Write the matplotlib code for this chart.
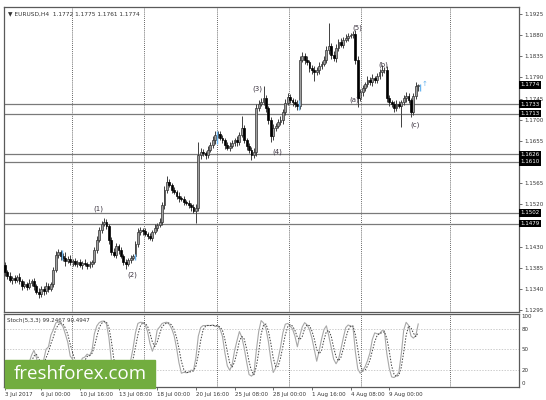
import numpy as np
import pandas as pd
import matplotlib
matplotlib.use('Agg')
import matplotlib.pyplot as plt
from matplotlib.patches import Rectangle

# EURUSD H4 - prices in pips above 1.1000
first_open = 391
closes = [
    376, 367, 359, 363, 359, 365, 357, 346, 350, 344,
    352, 357, 346, 333, 329, 340, 335, 346, 340, 350,
    380, 412, 418, 410, 406, 399, 404, 397, 399, 393,
    397, 391, 395, 393, 389, 393, 397, 423, 444, 465,
    478, 482, 474, 444, 418, 412, 431, 423, 410, 397,
    393, 401, 406, 410, 435, 461, 465, 463, 457, 452,
    448, 461, 470, 476, 482, 518, 550, 567, 561, 550,
    546, 538, 533, 531, 525, 523, 518, 514, 506, 512,
    625, 631, 629, 625, 636, 646, 657, 668, 670, 661,
    657, 646, 640, 644, 650, 657, 653, 668, 682, 657,
    644, 636, 625, 631, 725, 734, 738, 746, 725, 699,
    665, 682, 687, 695, 699, 716, 736, 748, 742, 738,
    734, 729, 827, 836, 827, 823, 810, 806, 802, 806,
    814, 819, 827, 848, 857, 838, 831, 853, 865, 859,
    870, 874, 878, 880, 883, 827, 746, 758, 767, 775,
    784, 780, 788, 784, 792, 802, 806, 806, 746, 738,
    734, 725, 734, 729, 738, 746, 750, 742, 716, 750,
    772, 774,
]
upper_wick = [
    6, 5, 8, 5, 7, 5, 8, 5, 6, 5,
    8, 5, 6, 5, 8, 6, 5, 9, 6, 5,
    6, 8, 7, 5, 6, 12, 5, 8, 5, 6,
    5, 7, 5, 8, 5, 6, 5, 6, 8, 6,
    6, 9, 6, 5, 7, 9, 6, 5, 6, 5,
    6, 5, 7, 5, 6, 8, 6, 5, 7, 5,
    6, 5, 7, 5, 8, 6, 9, 13, 6, 5,
    6, 5, 8, 5, 7, 5, 6, 5, 6, 8,
    28, 9, 6, 5, 8, 6, 8, 9, 6, 5,
    6, 5, 7, 8, 6, 5, 8, 6, 26, 6,
    5, 7, 5, 8, 9, 8, 9, 26, 6, 5,
    6, 8, 5, 7, 8, 6, 9, 8, 6, 5,
    6, 8, 9, 9, 6, 8, 5, 6, 8, 6,
    8, 6, 9, 8, 49, 6, 8, 9, 6, 8,
    6, 8, 6, 5, 6, 8, 9, 8, 6, 5,
    8, 6, 9, 6, 8, 6, 10, 6, 8, 6,
    5, 6, 8, 6, 5, 6, 8, 6, 5, 6,
    9, 1,
]
lower_wick = [
    8, 6, 5, 8, 6, 5, 6, 8, 5, 6,
    5, 6, 8, 5, 9, 6, 8, 5, 6, 5,
    6, 5, 6, 8, 6, 11, 5, 6, 8, 5,
    6, 5, 8, 5, 6, 5, 6, 5, 6, 5,
    6, 5, 6, 8, 6, 5, 6, 8, 5, 6,
    10, 5, 6, 5, 6, 5, 6, 8, 5, 6,
    5, 6, 5, 6, 5, 6, 8, 6, 5, 6,
    5, 6, 8, 5, 6, 5, 6, 8, 5, 26,
    6, 8, 6, 9, 6, 5, 6, 8, 6, 5,
    6, 8, 5, 6, 5, 6, 8, 6, 5, 6,
    8, 6, 11, 6, 8, 6, 5, 6, 8, 9,
    12, 8, 6, 5, 6, 8, 6, 5, 6, 8,
    6, 8, 6, 5, 8, 6, 9, 8, 20, 6,
    8, 6, 5, 6, 8, 9, 6, 8, 6, 5,
    6, 5, 6, 5, 6, 8, 19, 6, 8, 6,
    5, 6, 8, 6, 5, 6, 8, 6, 9, 8,
    6, 8, 6, 5, 45, 6, 8, 6, 10, 6,
    6, 11,
]

levels = [1.1733, 1.1713, 1.1626, 1.1610, 1.1502, 1.1479]
last_price = 1.1774
price_ticks = [1.1925, 1.1880, 1.1835, 1.1790, 1.1745, 1.1700, 1.1655,
               1.1565, 1.1520, 1.1430, 1.1385, 1.1340, 1.1295]
date_idx = [0, 15, 31, 47, 63, 79, 95, 111, 127, 143, 159]
date_txt = ['3 Jul 2017', '6 Jul 00:00', '10 Jul 16:00', '13 Jul 08:00',
            '18 Jul 00:00', '20 Jul 16:00', '25 Jul 08:00', '28 Jul 00:00',
            '1 Aug 16:00', '4 Aug 08:00', '9 Aug 00:00']
wave_txt = ['(1)', '(2)', '(3)', '(4)', '(5)', '(a)', '(b)', '(c)']
wave_idx = [38.5, 52.5, 104.3, 112.5, 145.6, 144.6, 156.4, 169.6]
wave_px = [1.1510, 1.1369, 1.1765, 1.1631, 1.1895, 1.1742, 1.1816, 1.1689]
blue_bars = [23, 53, 87, 121, 171]

# build OHLC
c = 1.1 + np.array(closes) / 10000
o = np.r_[1.1 + first_open / 10000, c[:-1]]
h = np.maximum(o, c) + np.array(upper_wick) / 10000
l = np.minimum(o, c) - np.array(lower_wick) / 10000
x = np.arange(len(c))

# stochastic 5,3,3 (MT4 style)
df = pd.DataFrame({'h': h, 'l': l, 'c': c})
ll = df['l'].rolling(5).min()
hh = df['h'].rolling(5).max()
k = 100 * (df['c'] - ll).rolling(3).sum() / (hh - ll).rolling(3).sum()
d = k.rolling(3).mean()

W, H = 546, 400
fig = plt.figure(figsize=(W / 100, H / 100), dpi=100)
ax = fig.add_axes([4 / W, 1 - 312 / H, 515 / W, 305 / H])
ax2 = fig.add_axes([4 / W, 1 - 387 / H, 515 / W, 73 / H])

xmin, xmax = -0.4, 212.7
grid_x = [27.7, 57.6, 87.8, 117.6, 147.4, 184.1]

# candles
bull = c >= o
ax.vlines(x, l, h, color='#404040', lw=0.7, zorder=2)
ax.bar(x[bull], (c - o)[bull], bottom=o[bull], width=0.75,
       color='#a0a0a0', edgecolor='#303030', linewidth=0.5, zorder=3)
ax.bar(x[~bull], (o - c)[~bull], bottom=c[~bull], width=0.75,
       color='black', edgecolor='black', linewidth=0.5, zorder=3)
for i in blue_bars:
    ax.vlines(i + 0.6, l[i], h[i], color='#6ab4ee', lw=1.0, zorder=4)
ax.text(blue_bars[-1] + 1.5, h[-1], '↑', color='#6ab4ee', fontsize=5,
        ha='left', va='center', zorder=4)

for lv in levels:
    ax.axhline(lv, color='#7a7a7a', lw=0.9, zorder=1)
for gx in grid_x:
    ax.axvline(gx, color='#333333', lw=0.6, ls=(0, (1, 1.5)), zorder=0)
    ax2.axvline(gx, color='#333333', lw=0.6, ls=(0, (1, 1.5)), zorder=0)

for t, xi, yi in zip(wave_txt, wave_idx, wave_px):
    ax.text(xi, yi, t, fontsize=5, color='#3c3440', ha='center', va='center')

ax.set_xlim(xmin, xmax)
ax.set_ylim(1.12907, 1.19399)
ax.set_xticks([])
ax.yaxis.tick_right()
ax.set_yticks(price_ticks)
ax.set_yticklabels([f'{p:.4f}' for p in price_ticks])
ax.tick_params(axis='y', labelsize=4, length=2, width=0.5, pad=1.5,
               colors='#333333')

# price boxes on the right axis
for lv in [last_price] + levels:
    ax.text(1.003, lv, f'{lv:.4f}', transform=ax.get_yaxis_transform(),
            fontsize=4, color='white', ha='left', va='center', clip_on=False,
            bbox=dict(fc='black', ec='none', pad=1.0), zorder=10)

ax.text(0.008, 0.985, '▼ EURUSD,H4  1.1772 1.1775 1.1761 1.1774',
        transform=ax.transAxes, fontsize=4.2, color='#333333',
        ha='left', va='top')

# stochastic panel
ax2.plot(x, k, color='#a8a8a8', lw=0.8)
ax2.plot(x, d, color='#404040', lw=0.7, ls=(0, (1.5, 1.5)))
for lv in [80, 50, 20]:
    ax2.axhline(lv, color='#b8b8b8', lw=0.5, ls=(0, (2, 2)))
ax2.set_xlim(xmin, xmax)
ax2.set_ylim(-6, 103)
ax2.yaxis.tick_right()
ax2.set_yticks([100, 80, 50, 20, 0])
ax2.tick_params(axis='y', labelsize=4, length=0, pad=2, colors='#333333')
ax2.set_xticks(date_idx)
ax2.set_xticklabels(date_txt, ha='left')
ax2.tick_params(axis='x', labelsize=4, length=2, width=0.5, pad=1.5,
                colors='#333333')
ax2.text(0.006, 0.95, 'Stoch(5,3,3) 99.2467 90.4947', transform=ax2.transAxes,
         fontsize=4, color='#333333', ha='left', va='top')

for a in (ax, ax2):
    for s in a.spines.values():
        s.set_color('#5a5a5a')
        s.set_linewidth(0.9)

# watermark
fig.patches.append(Rectangle((5 / W, 1 - 388 / H), 150 / W, 28 / H,
                             transform=fig.transFigure, color='#72ad3f',
                             zorder=20))
fig.text(80 / W, 1 - 374 / H, 'freshforex.com', fontsize=13.5,
         family=['Open Sans', 'DejaVu Sans'], color='white',
         ha='center', va='center', zorder=21)

fig.savefig('out.png', dpi=100)
